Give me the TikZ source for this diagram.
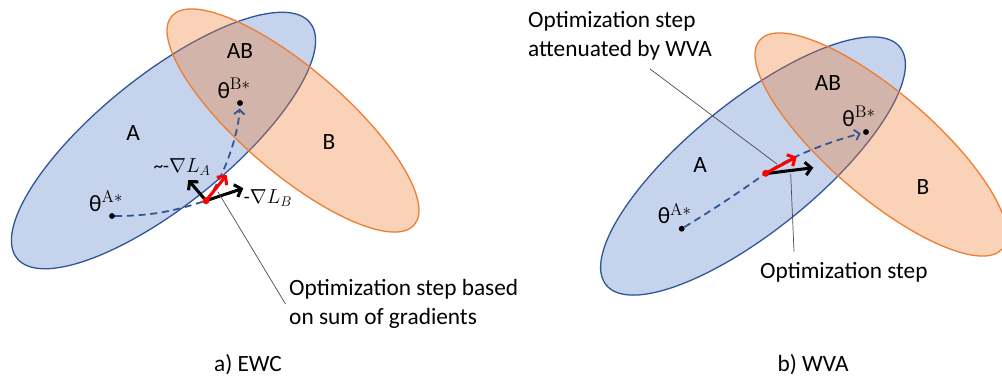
\documentclass[tikz,border=0pt]{standalone}
\usepackage[no-math]{fontspec}
\setmainfont{Carlito}
\usetikzlibrary{positioning,arrows.meta}

\definecolor{fillA}{RGB}{197,211,236}
\definecolor{lineA}{RGB}{47,85,151}
\definecolor{lineB}{RGB}{237,125,49}

\begin{document}
\begin{tikzpicture}
  [x=0.03cm, y=-0.03cm,
   txt/.style={font=\fontsize{19.9}{24.6}\selectfont, inner sep=0pt},
   gradT/.style={font=\fontsize{16.5}{20}\selectfont, inner sep=0pt},
   dotN/.style={circle,fill=black,inner sep=0pt,minimum size=5pt},
   stepN/.style={circle,fill=red,inner sep=0pt,minimum size=6pt},
   setA/.style={fill=fillA,draw=lineA,line width=1.1pt},
   setB/.style={fill=lineB,fill opacity=0.35,draw=lineB,line width=1.1pt},
   trajP/.style={draw=lineA,line width=1.5pt,dash pattern=on 6pt off 4pt,
     shorten >=2pt,-{Straight Barb[length=4pt,width=9pt]}},
   gradA/.style={line width=2.6pt,-{Straight Barb[length=5pt,width=11pt]}},
   callout/.style={draw=black!70,line width=0.6pt}]

  \useasboundingbox (0,0) rectangle (1002,379);

  % a) EWC
  \draw[setA] [rotate around={38.8:(163.5,140.5)}] (163.5,140.5) ellipse (188 and 65);
  \draw[setB] [rotate around={-40.7:(293,120.5)}] (293,120.5) ellipse (160 and 52);

  \node[txt] (regA) at (133,133) {A};
  \node[txt] (regAB) at (240,51) {AB};
  \node[txt] (regB) at (329,142) {B};

  \node[dotN] (thA) at (112,216) {};
  \node[dotN] (thB) at (240,103) {};
  \node[txt] (labA) [above=1pt of thA, xshift=-5pt] {θ$^{\mathrm{A}*}$};
  \node[txt] (labB) [above=1pt of thB, xshift=-5pt] {θ$^{\mathrm{B}*}$};

  \coordinate (stepL) at (206,200.7);
  \coordinate (tipAL) at (188.3,180);
  \coordinate (tipBL) at (243.3,188.3);
  \coordinate (tipRL) at (226.7,175);

  \draw[trajP] (thA) .. controls +(50,0) and +(-20,6) .. (stepL)
    .. controls +(16,-20) and +(-2,35) .. (thB);

  \draw[gradA] (stepL) -- (tipAL);
  \draw[gradA] (stepL) -- (tipBL);
  \draw[gradA,red] (stepL) -- (tipRL);
  \node[stepN] (dotL) at (stepL) {};

  \node[gradT] (gA) at (182,167) {\textasciitilde-$\nabla L_A$};
  \node[gradT] (gB) at (268,198) {-$\nabla L_B$};

  \node[txt,anchor=west,align=left] (sumtxt) at (289,304)
    {Optimization step based\\on sum of gradients};
  \coordinate (callL) at (218,192);
  \draw[callout] (callL) -- ([xshift=-3pt]sumtxt.west);

  \node[txt] (capA) at (248,365) {a) EWC};

  % b) WVA
  \draw[setA] [rotate around={39:(753,166)}] (753,166) ellipse (189 and 64.5);
  \draw[setB] [rotate around={-40.7:(881,144.5)}] (881,144.5) ellipse (160 and 52);

  \node[txt] (regA2) at (700,165) {A};
  \node[txt] (regAB2) at (828,83) {AB};
  \node[txt] (regB2) at (923,187) {B};

  \node[dotN] (thA2) at (681.7,228.7) {};
  \node[dotN] (thB2) at (866,132) {};
  \node[txt] (labA2) [above=1pt of thA2, xshift=-6pt] {θ$^{\mathrm{A}*}$};
  \node[txt] (labB2) [above=2pt of thB2, xshift=-6pt] {θ$^{\mathrm{B}*}$};

  \coordinate (stepR) at (765.7,173.3);
  \coordinate (tipBR) at (813.3,167.7);
  \coordinate (tipRR) at (796.7,156.7);

  \draw[trajP] (thA2) .. controls +(28,-17) and +(-28,20) .. (stepR)
    .. controls +(30,-20) and +(-30,8) .. (thB2);

  \draw[gradA] ([xshift=2pt]stepR) -- (tipBR);
  \draw[gradA,red] (stepR) -- (tipRR);
  \node[stepN] (dotR) at (stepR) {};

  \node[txt,anchor=west,align=left] (atttxt) at (528,35.5)
    {Optimization step\\attenuated by WVA};
  \coordinate (c1s) at (650,69);
  \coordinate (c1e) at (777,164);
  \draw[callout] (c1s) -- (c1e);

  \node[txt,anchor=west] (steptxt) at (760,272.7) {Optimization step};
  \coordinate (c2s) at (790.7,174);
  \coordinate (c2e) at (794,251.7);
  \draw[callout] (c2s) -- (c2e);

  \node[txt] (capB) at (813,365) {b) WVA};
\end{tikzpicture}
\end{document}
